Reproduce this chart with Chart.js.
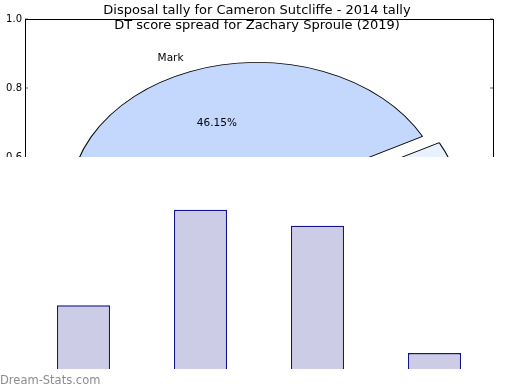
<!DOCTYPE html>
<html>
<head>
<meta charset="utf-8">
<script src="https://cdn.jsdelivr.net/npm/chart.js@4"></script>
<style>
  html, body { margin: 0; padding: 0; background: #fff; }
  #wrap { position: relative; width: 520px; height: 390px; overflow: hidden; }
  #wrap canvas { position: absolute; left: 0; }
  #axes, #pie { top: 0; }
  #bars { top: 157px; background: #fff; }
  #mark { position: absolute; left: 0; top: 373px; font: 11.5px "DejaVu Sans", sans-serif; color: #8c8c8c; }
</style>
</head>
<body>
<div id="wrap">
  <canvas id="axes" width="520" height="390"></canvas>
  <canvas id="pie" width="520" height="390"></canvas>
  <canvas id="bars" width="520" height="233"></canvas>
  <div id="mark">Dream-Stats.com</div>
</div>
<script>
const titleLines = ['Disposal tally for Cameron Sutcliffe - 2014 tally', 'DT score spread for Zachary Sproule (2019)'];

// pie: disposal tally
const pieLabels = ['Mark', 'Kick', 'Handball'];
const pieValues = [12, 9, 5];
const pieColors = ['#c4d8fd', '#e9f0fe', '#a9c4f0'];

// y ticks of the pie's frame
const frameTicks = [0, 0.2, 0.4, 0.6, 0.8, 1.0];

// bars: DT score spread
const dtBuckets = ['<50', '50-74', '75-99', '100+'];
const dtGames = [4, 10, 9, 1];

const font = 'DejaVu Sans';
Chart.defaults.font.family = font;
Chart.defaults.animation = false;

// frame round the pie axes
const framePlugin = {
  id: 'frame',
  afterDraw(chart) {
    const { ctx, chartArea: a } = chart;
    ctx.save();
    ctx.strokeStyle = '#000';
    ctx.lineWidth = 1;
    ctx.strokeRect(Math.round(a.left) + 0.5, Math.round(a.top) + 0.5, a.right - a.left, a.bottom - a.top);
    ctx.restore();
  }
};

const tickGrid = { drawOnChartArea: false, drawTicks: true, tickLength: -3, color: '#b0b0b0', lineWidth: 2 };

const axesChart = new Chart(document.getElementById('axes'), {
  type: 'scatter',
  data: { datasets: [{ data: [] }] },
  options: {
    responsive: false,
    layout: { padding: { top: 19, right: 27, bottom: 24, left: 0 } },
    plugins: { legend: { display: false }, tooltip: { enabled: false } },
    scales: {
      x: { display: false, min: 0, max: 1 },
      y: {
        min: 0, max: 1,
        afterBuildTicks: s => { s.ticks = frameTicks.map(v => ({ value: v })); },
        afterFit: s => { s.width = 25; },
        border: { display: false },
        grid: tickGrid,
        ticks: { padding: 6, color: '#000', font: { size: 10 }, callback: v => v.toFixed(1) }
      },
      y2: {
        position: 'right', min: 0, max: 1,
        afterBuildTicks: s => { s.ticks = frameTicks.map(v => ({ value: v })); },
        afterFit: s => { s.width = 0; },
        border: { display: false },
        grid: tickGrid,
        ticks: { display: false }
      }
    }
  },
  plugins: [framePlugin]
});

// the pie lives in data units, so it is stretched like the axes
const xs = axesChart.scales.x, ys = axesChart.scales.y;
const stretch = (xs.right - xs.left) / (ys.bottom - ys.top);
const pieRadius = 0.4 * (ys.bottom - ys.top);

const ellipsePlugin = {
  id: 'ellipse',
  beforeDatasetsDraw(chart) {
    const a = chart.chartArea;
    const cx = (a.left + a.right) / 2;
    chart.ctx.save();
    chart.ctx.translate(cx, 0);
    chart.ctx.scale(stretch, 1);
    chart.ctx.translate(-cx, 0);
  },
  afterDatasetsDraw(chart) {
    const { ctx } = chart;
    ctx.restore();
    const ds = chart.data.datasets[0];
    const total = ds.data.reduce((s, v) => s + v, 0);
    ctx.save();
    ctx.fillStyle = '#000';
    ctx.textBaseline = 'middle';
    chart.getDatasetMeta(0).data.forEach((arc, i) => {
      const mid = (arc.startAngle + arc.endAngle) / 2;
      const shift = (ds.offset[i] || 0) / 4;
      const r = arc.outerRadius;
      const at = k => ({
        x: arc.x + stretch * Math.cos(mid) * (k * r + shift),
        y: arc.y + Math.sin(mid) * (k * r + shift)
      });
      const lab = at(1.1), pct = at(0.6);
      ctx.font = '10.5px ' + font;
      ctx.textAlign = Math.cos(mid) < 0 ? 'right' : 'left';
      ctx.fillText(chart.data.labels[i], lab.x, lab.y);
      ctx.textAlign = 'center';
      ctx.fillText((ds.data[i] / total * 100).toFixed(2) + '%', pct.x, pct.y);
    });
    ctx.restore();
  }
};

new Chart(document.getElementById('pie'), {
  type: 'pie',
  data: {
    labels: pieLabels,
    datasets: [{
      data: pieValues,
      backgroundColor: pieColors,
      borderColor: '#000',
      borderWidth: 0.8,
      offset: [0, 50, 0]
    }]
  },
  options: {
    responsive: false,
    rotation: 256,
    radius: pieRadius,
    layout: { padding: { top: 0, right: 6, bottom: 21, left: 0 } },
    plugins: {
      legend: { display: false },
      tooltip: { enabled: false },
      title: {
        display: true,
        text: titleLines,
        color: '#000',
        font: { size: 13, weight: 'normal', lineHeight: 1.17 },
        padding: { top: 3, bottom: 0 }
      }
    }
  },
  plugins: [ellipsePlugin]
});

new Chart(document.getElementById('bars'), {
  type: 'bar',
  data: {
    labels: dtBuckets,
    datasets: [{
      data: dtGames,
      backgroundColor: '#ccccE6',
      borderColor: '#14148c',
      borderWidth: 1.3,
      barPercentage: 0.453,
      categoryPercentage: 1
    }]
  },
  options: {
    responsive: false,
    layout: { padding: { top: 21, right: 27, bottom: 21, left: 25 } },
    plugins: { legend: { display: false }, tooltip: { enabled: false } },
    scales: {
      x: { display: false },
      y: { display: false, min: 0, max: 12 }
    }
  }
});
</script>
</body>
</html>
